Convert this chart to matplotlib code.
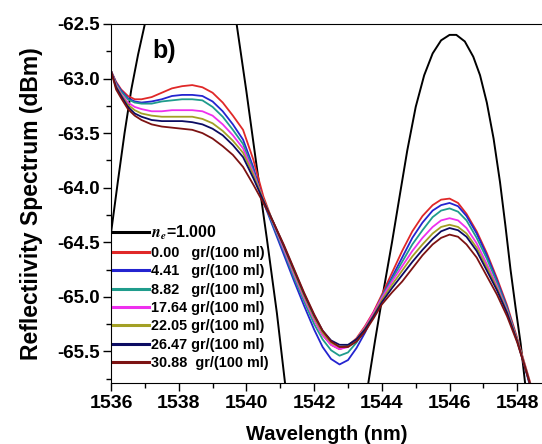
import numpy as np
import matplotlib
matplotlib.use("Agg")
import matplotlib.pyplot as plt
from matplotlib.ticker import MultipleLocator

plt.rcParams['font.family'] = ['Liberation Sans', 'DejaVu Sans']
plt.rcParams['font.weight'] = 'bold'
plt.rcParams['mathtext.fontset'] = 'stix'

# wavelength grid (nm) for the concentration curves
wl = [1536.0, 1536.15, 1536.3, 1536.5, 1536.7, 1536.9, 1537.2, 1537.5, 1537.8, 1538.1,
      1538.4, 1538.7, 1539.0, 1539.3, 1539.6, 1539.9, 1540.2, 1540.5, 1540.8, 1541.1,
      1541.4, 1541.7, 1542.0, 1542.25, 1542.5, 1542.75, 1543.0, 1543.25, 1543.5, 1543.75,
      1544.0, 1544.3, 1544.6, 1544.9, 1545.2, 1545.5, 1545.75, 1546.0, 1546.25, 1546.5,
      1546.8, 1547.1, 1547.4, 1547.7, 1548.0, 1548.3, 1548.6, 1548.9]

c_000 = [-62.93, -63.03, -63.10, -63.16, -63.19, -63.19, -63.17, -63.13, -63.09, -63.07,
         -63.06, -63.08, -63.13, -63.22, -63.34, -63.47, -63.74, -64.08, -64.33, -64.57,
         -64.79, -65.01, -65.21, -65.35, -65.44, -65.48, -65.45, -65.38, -65.27, -65.14,
         -64.98, -64.78, -64.58, -64.40, -64.26, -64.16, -64.11, -64.10, -64.14, -64.24,
         -64.40, -64.60, -64.83, -65.08, -65.38, -65.70, -66.02, -66.35]
c_441 = [-62.93, -63.04, -63.11, -63.18, -63.21, -63.22, -63.21, -63.19, -63.16, -63.15,
         -63.15, -63.16, -63.21, -63.30, -63.42, -63.56, -63.81, -64.13, -64.37, -64.61,
         -64.85, -65.08, -65.30, -65.46, -65.57, -65.62, -65.58, -65.47, -65.33, -65.17,
         -65.00, -64.82, -64.64, -64.46, -64.32, -64.21, -64.16, -64.14, -64.17, -64.26,
         -64.42, -64.62, -64.85, -65.10, -65.40, -65.73, -66.07, -66.40]
c_882 = [-62.93, -63.05, -63.12, -63.19, -63.22, -63.23, -63.23, -63.21, -63.20, -63.19,
         -63.19, -63.20, -63.26, -63.35, -63.47, -63.60, -63.84, -64.12, -64.35, -64.58,
         -64.82, -65.04, -65.25, -65.39, -65.49, -65.54, -65.51, -65.42, -65.30, -65.16,
         -65.00, -64.84, -64.68, -64.52, -64.39, -64.27, -64.21, -64.19, -64.22, -64.30,
         -64.46, -64.65, -64.87, -65.11, -65.40, -65.72, -66.05, -66.38]
c_1764 = [-62.93, -63.06, -63.14, -63.22, -63.26, -63.28, -63.30, -63.30, -63.29, -63.29,
          -63.29, -63.30, -63.34, -63.42, -63.52, -63.64, -63.86, -64.11, -64.33, -64.56,
          -64.79, -65.01, -65.21, -65.35, -65.44, -65.48, -65.46, -65.39, -65.28, -65.15,
          -65.01, -64.86, -64.72, -64.58, -64.46, -64.36, -64.30, -64.28, -64.30, -64.37,
          -64.51, -64.70, -64.90, -65.13, -65.40, -65.71, -66.03, -66.36]
c_2205 = [-62.93, -63.07, -63.15, -63.24, -63.29, -63.32, -63.34, -63.35, -63.35, -63.35,
          -63.35, -63.37, -63.41, -63.48, -63.57, -63.68, -63.88, -64.11, -64.32, -64.54,
          -64.77, -64.99, -65.19, -65.33, -65.42, -65.46, -65.45, -65.39, -65.29, -65.17,
          -65.03, -64.89, -64.76, -64.63, -64.52, -64.42, -64.36, -64.34, -64.36, -64.42,
          -64.55, -64.73, -64.92, -65.14, -65.40, -65.71, -66.03, -66.36]
c_2647 = [-62.93, -63.08, -63.16, -63.26, -63.32, -63.35, -63.38, -63.39, -63.39, -63.39,
          -63.40, -63.42, -63.46, -63.52, -63.61, -63.72, -63.91, -64.12, -64.32, -64.53,
          -64.75, -64.97, -65.17, -65.31, -65.40, -65.44, -65.44, -65.39, -65.30, -65.18,
          -65.05, -64.92, -64.80, -64.68, -64.57, -64.47, -64.40, -64.37, -64.39, -64.45,
          -64.58, -64.76, -64.94, -65.15, -65.41, -65.72, -66.04, -66.37]
c_3088 = [-62.93, -63.10, -63.18, -63.28, -63.34, -63.38, -63.42, -63.44, -63.45, -63.46,
          -63.47, -63.50, -63.55, -63.62, -63.70, -63.81, -63.97, -64.14, -64.32, -64.52,
          -64.74, -64.96, -65.16, -65.31, -65.41, -65.46, -65.46, -65.41, -65.32, -65.20,
          -65.07, -64.96, -64.86, -64.74, -64.62, -64.52, -64.46, -64.43, -64.45, -64.52,
          -64.64, -64.81, -64.98, -65.18, -65.42, -65.72, -66.04, -66.37]

# reference spectrum n_e = 1.000 (runs out of the frame)
ref_wl = [1535.9, 1536.05, 1536.2, 1536.4, 1536.6, 1536.8, 1537.0, 1537.4, 1537.9, 1538.35,
          1538.8, 1539.3, 1539.71, 1540.0, 1540.3, 1540.6, 1540.9, 1541.14, 1541.5, 1542.4,
          1543.3, 1543.6, 1543.8, 1544.0, 1544.3, 1544.54, 1544.75, 1545.0, 1545.25, 1545.5,
          1545.75, 1546.0, 1546.2, 1546.45, 1546.7, 1546.9, 1547.1, 1547.3, 1547.49, 1547.65,
          1547.8, 1547.95, 1548.1, 1548.23, 1548.4]
ref = [-64.65, -64.30, -63.95, -63.50, -63.10, -62.78, -62.50, -62.05, -61.80, -61.72,
       -61.82, -62.08, -62.50, -63.12, -63.80, -64.46, -65.15, -65.79, -66.60, -67.20,
       -66.60, -65.79, -65.40, -65.03, -64.50, -64.05, -63.66, -63.26, -62.97, -62.77,
       -62.65, -62.60, -62.60, -62.66, -62.80, -62.97, -63.22, -63.55, -63.95, -64.35,
       -64.75, -65.10, -65.43, -65.79, -66.30]

labels = ["0.00   gr/(100 ml)", "4.41   gr/(100 ml)", "8.82   gr/(100 ml)",
          "17.64 gr/(100 ml)", "22.05 gr/(100 ml)", "26.47 gr/(100 ml)",
          "30.88  gr/(100 ml)"]
series = [c_000, c_441, c_882, c_1764, c_2205, c_2647, c_3088]
colors = ['#e02828', '#2424d0', '#1f9c8c', '#ee30ee', '#a3a025', '#0c0c62', '#7c1212']

fig = plt.figure(figsize=(5.42, 4.44), dpi=100)
ax = fig.add_axes([0.2048, 0.1374, 0.7952, 0.8086])

ax.plot(ref_wl, ref, color='black', lw=1.4, label=r'$\mathbfit{n}_{\mathbfit{e}}$=1.000')
for y, c, lab in zip(series, colors, labels):
    ax.plot(wl, y, color=c, lw=1.3, label=lab)

ax.set_xlim(1536, 1548.73)
ax.set_ylim(-65.79, -62.5)
ax.xaxis.set_major_locator(MultipleLocator(2))
ax.xaxis.set_minor_locator(MultipleLocator(1))
ax.yaxis.set_major_locator(MultipleLocator(0.5))
ax.yaxis.set_minor_locator(MultipleLocator(0.25))
ax.yaxis.set_major_formatter(plt.FormatStrFormatter('%.1f'))
ax.tick_params(which='major', direction='out', length=6, width=1)
ax.tick_params(which='minor', direction='out', length=3.5, width=1)
ax.tick_params(axis='x', labelsize=14, pad=3)
ax.tick_params(axis='y', labelsize=13.5, pad=2)
ax.spines['right'].set_visible(False)

ax.set_xlabel('Wavelength (nm)', fontsize=14.5, fontweight='bold', labelpad=9)
ax.set_ylabel('Reflectiivity Spectrum (dBm)', fontsize=16.5, fontweight='bold', labelpad=10)

ax.text(0.097, 0.905, 'b)', transform=ax.transAxes, fontsize=18, fontweight='bold', va='baseline')

leg = ax.legend(loc='upper left', bbox_to_anchor=(0.004, 0.445), frameon=False,
                fontsize=10.4, borderpad=0, borderaxespad=0, handlelength=2.5,
                handletextpad=0.15, labelspacing=0.3)
leg.get_texts()[0].set_fontsize(11.5)
for line in leg.get_lines():
    line.set_linewidth(2.2)

fig.savefig('out.png', dpi=100)
